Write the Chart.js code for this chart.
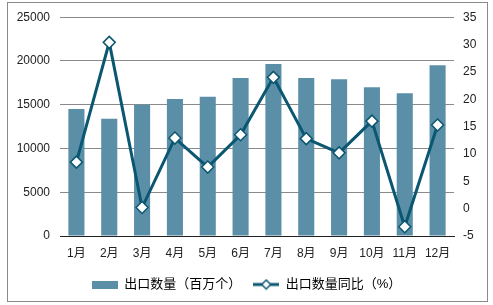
<!DOCTYPE html>
<html>
<head>
<meta charset="utf-8">
<script src="https://cdn.jsdelivr.net/npm/chart.js@4"></script>
<style>
  html, body { margin: 0; padding: 0; background: #fff; }
  #wrap { width: 493px; height: 305px; position: relative; }
</style>
</head>
<body>
<div id="wrap"><canvas id="chart" width="493" height="305"></canvas></div>
<script>
// Data
const months = ["1月", "2月", "3月", "4月", "5月", "6月", "7月", "8月", "9月", "10月", "11月", "12月"];
const exportQty = [14500, 13400, 15000, 15650, 15900, 18050, 19650, 18050, 17900, 17000, 16300, 19500];
const exportYoY = [8.5, 30.4, 0.2, 12.9, 7.6, 13.5, 24.0, 12.8, 10.2, 16.0, -3.3, 15.3];
const leftTicks = [0, 5000, 10000, 15000, 20000, 25000];
const rightTicks = [-5, 0, 5, 10, 15, 20, 25, 30, 35];

const barColor = "#5b8fa8";
const lineColor = "#0b5670";
const fontFamily = "Arial, 'Liberation Sans', 'Noto Sans CJK SC', sans-serif";

// Legend swatches drawn on small canvases
function barSwatch() {
  const c = document.createElement("canvas");
  c.width = 26;
  c.height = 8;
  const g = c.getContext("2d");
  g.fillStyle = barColor;
  g.fillRect(0, 0, 26, 8);
  return c;
}

function lineSwatch() {
  const c = document.createElement("canvas");
  c.width = 26;
  c.height = 12;
  const g = c.getContext("2d");
  g.strokeStyle = lineColor;
  g.lineWidth = 3;
  g.beginPath();
  g.moveTo(0, 6);
  g.lineTo(26, 6);
  g.stroke();
  g.fillStyle = "#fff";
  g.lineWidth = 1.5;
  g.beginPath();
  g.moveTo(13, 1.5);
  g.lineTo(17.5, 6);
  g.lineTo(13, 10.5);
  g.lineTo(8.5, 6);
  g.closePath();
  g.fill();
  g.stroke();
  return c;
}

// Gray frame round the whole picture
const framePlugin = {
  id: "frame",
  afterDraw(chart) {
    const ctx = chart.ctx;
    ctx.save();
    ctx.strokeStyle = "#8a8a8a";
    ctx.lineWidth = 1;
    ctx.strokeRect(7.5, 2.5, 480, 299);
    ctx.restore();
  },
};

const ctx = document.getElementById("chart").getContext("2d");
new Chart(ctx, {
  data: {
    labels: months,
    datasets: [
      {
        type: "bar",
        label: "出口数量（百万个）",
        data: exportQty,
        backgroundColor: barColor,
        yAxisID: "y",
        barPercentage: 0.49,
        categoryPercentage: 1,
        order: 2,
      },
      {
        type: "line",
        label: "出口数量同比（%）",
        data: exportYoY,
        borderColor: lineColor,
        borderWidth: 3,
        pointStyle: "rectRot",
        pointRadius: 6,
        pointBackgroundColor: "#fff",
        pointBorderColor: lineColor,
        pointBorderWidth: 1.5,
        tension: 0,
        yAxisID: "y1",
        order: 1,
      },
    ],
  },
  options: {
    responsive: false,
    animation: false,
    layout: {
      padding: { left: 0, right: 0, top: 16, bottom: 4 },
    },
    plugins: {
      tooltip: { enabled: false },
      legend: {
        position: "bottom",
        labels: {
          usePointStyle: true,
          pointStyleWidth: 26,
          padding: 12,
          color: "#222",
          font: { family: fontFamily, size: 13 },
          generateLabels: function () {
            return [
              { text: "出口数量（百万个）", pointStyle: barSwatch(), fillStyle: barColor, strokeStyle: barColor, lineWidth: 0, hidden: false, datasetIndex: 0 },
              { text: "出口数量同比（%）", pointStyle: lineSwatch(), fillStyle: "#fff", strokeStyle: lineColor, lineWidth: 0, hidden: false, datasetIndex: 1 },
            ];
          },
        },
      },
    },
    scales: {
      x: {
        grid: { display: false, drawTicks: false },
        border: { color: "#222", width: 1 },
        ticks: {
          color: "#222",
          padding: 10,
          font: { family: fontFamily, size: 12 },
        },
        afterFit: function (scale) {
          scale.height = 30;
        },
      },
      y: {
        position: "left",
        min: 0,
        max: 25000,
        afterBuildTicks: function (scale) {
          scale.ticks = leftTicks.map((v) => ({ value: v }));
        },
        grid: { color: "#8a8a8a", drawTicks: false },
        border: { display: false },
        ticks: {
          color: "#222",
          padding: 10,
          font: { family: fontFamily, size: 12 },
          callback: (value) => String(value),
        },
        afterFit: function (scale) {
          scale.width = 60;
        },
      },
      y1: {
        position: "right",
        min: -5,
        max: 35,
        afterBuildTicks: function (scale) {
          scale.ticks = rightTicks.map((v) => ({ value: v }));
        },
        grid: { drawOnChartArea: false, drawTicks: false },
        border: { display: false },
        ticks: {
          color: "#222",
          padding: 9,
          font: { family: fontFamily, size: 12 },
          callback: (value) => String(value),
        },
        afterFit: function (scale) {
          scale.width = 39;
        },
      },
    },
  },
  plugins: [framePlugin],
});
</script>
</body>
</html>
